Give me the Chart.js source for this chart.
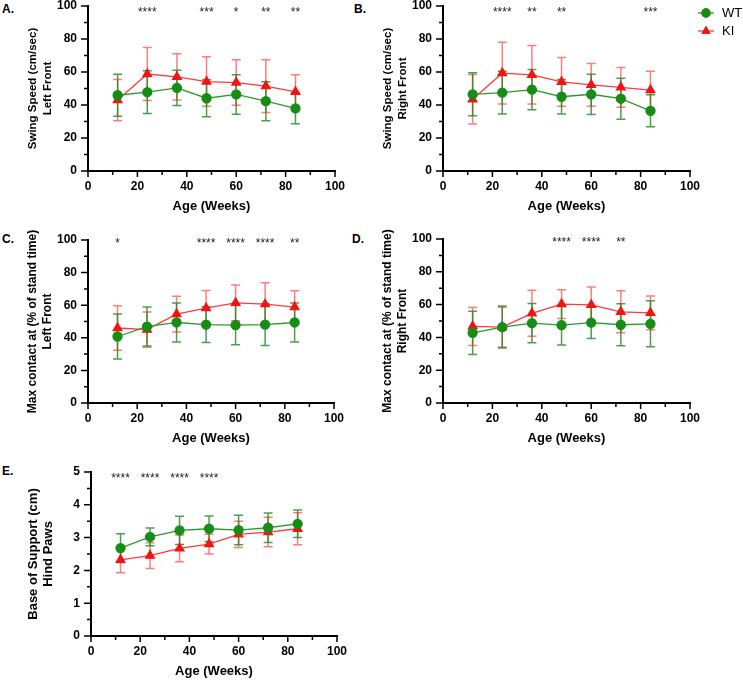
<!DOCTYPE html>
<html>
<head>
<meta charset="utf-8">
<script src="https://cdn.jsdelivr.net/npm/chart.js@4.4.1/dist/chart.umd.min.js"></script>
<style>
  body { margin: 0; background: #fff; width: 743px; height: 681px; position: relative; overflow: hidden;
         font-family: 'Liberation Sans', Arial, sans-serif; }
  canvas { position: absolute; }
  .lab { position: absolute; font-weight: bold; font-size: 12px; color: #000; }
</style>
</head>
<body>
<div class="lab" style="left:2px;top:2px">A.</div>
<div class="lab" style="left:354px;top:2px">B.</div>
<div class="lab" style="left:2px;top:232px">C.</div>
<div class="lab" style="left:352px;top:232px">D.</div>
<div class="lab" style="left:2px;top:464px">E.</div>

<canvas id="cA" width="350" height="222" style="left:0px;top:-6px"></canvas>
<canvas id="cB" width="373" height="222" style="left:370px;top:-6px"></canvas>
<canvas id="cC" width="350" height="220" style="left:0px;top:228px"></canvas>
<canvas id="cD" width="335" height="221" style="left:370px;top:227px"></canvas>
<canvas id="cE" width="352" height="221" style="left:0px;top:460px"></canvas>

<script>
Chart.defaults.font.family = "'Liberation Sans', Arial, sans-serif";

// age of the mice, weeks
const ages = [12, 24, 36, 48, 60, 72, 84];

// A. swing speed, left front (cm/sec)
const swingLF_WT    = [45.9, 47.8, 50.4, 44.1, 46.4, 42.3, 37.9];
const swingLF_WT_sd = [12.7, 13.0, 10.7, 11.2, 12.0, 11.8, 9.3];
const swingLF_KI    = [43.0, 58.8, 57.0, 54.2, 53.6, 51.5, 48.0];
const swingLF_KI_sd = [12.5, 16.0, 14.0, 15.0, 13.8, 16.0, 10.3];
const swingLF_stars = ['', '****', '', '***', '*', '**', '**'];

// B. swing speed, right front (cm/sec)
const swingRF_WT    = [46.5, 47.5, 49.3, 45.0, 46.5, 43.8, 36.5];
const swingRF_WT_sd = [13.0, 13.0, 12.2, 10.4, 12.2, 12.4, 9.7];
const swingRF_KI    = [43.5, 59.3, 58.3, 54.0, 52.2, 50.7, 49.0];
const swingRF_KI_sd = [15.0, 18.7, 17.7, 14.8, 13.0, 12.0, 11.4];
const swingRF_stars = ['', '****', '**', '**', '', '', '***'];

// C. max contact, left front (% of stand time)
const contactLF_WT    = [40.8, 46.9, 49.4, 48.1, 47.8, 48.1, 49.4];
const contactLF_WT_sd = [13.8, 12.0, 12.0, 11.0, 12.0, 12.8, 12.0];
const contactLF_KI    = [46.0, 45.0, 54.5, 58.2, 61.4, 60.6, 58.8];
const contactLF_KI_sd = [13.6, 10.8, 11.0, 10.8, 11.0, 13.1, 10.0];
const contactLF_stars = ['*', '', '', '****', '****', '****', '**'];

// D. max contact, right front (% of stand time)
const contactRF_WT    = [42.8, 46.3, 48.7, 47.5, 49.0, 47.7, 48.3];
const contactRF_WT_sd = [13.2, 12.8, 12.0, 12.1, 9.6, 12.8, 14.0];
const contactRF_KI    = [46.7, 46.3, 54.7, 60.3, 59.8, 55.6, 55.0];
const contactRF_KI_sd = [11.6, 12.1, 14.0, 8.8, 11.0, 12.8, 10.3];
const contactRF_stars = ['', '', '', '****', '****', '**', ''];

// E. base of support, hind paws (cm)
const bosHP_WT    = [2.68, 3.02, 3.22, 3.27, 3.23, 3.30, 3.42];
const bosHP_WT_sd = [0.44, 0.27, 0.43, 0.39, 0.45, 0.45, 0.42];
const bosHP_KI    = [2.32, 2.45, 2.67, 2.80, 3.10, 3.17, 3.27];
const bosHP_KI_sd = [0.39, 0.39, 0.41, 0.30, 0.40, 0.45, 0.49];
const bosHP_stars = ['****', '****', '****', '****', '', '', ''];

const GREEN = '#178c17', GREEN_LINE = '#2b9a2b', GREEN_ERR = 'rgba(30,135,30,0.8)';
const RED = '#f01414', RED_LINE = '#ff3a3a', RED_ERR = 'rgba(255,55,55,0.65)';

// mean +/- sd bars, drawn under the lines
const errorBars = {
  id: 'errorBars',
  beforeDatasetsDraw(chart) {
    const { ctx, scales: { x, y } } = chart;
    for (let i = chart.data.datasets.length - 1; i >= 0; i--) {
      const ds = chart.data.datasets[i];
      if (!ds.sd) continue;
      ctx.save();
      ctx.strokeStyle = ds.errorColor;
      ctx.lineWidth = 1.5;
      ds.data.forEach((p, j) => {
        const px = x.getPixelForValue(p.x);
        const top = y.getPixelForValue(p.y + ds.sd[j]);
        const bot = y.getPixelForValue(p.y - ds.sd[j]);
        ctx.beginPath();
        ctx.moveTo(px, top); ctx.lineTo(px, bot);
        ctx.moveTo(px - 4.5, top); ctx.lineTo(px + 4.5, top);
        ctx.moveTo(px - 4.5, bot); ctx.lineTo(px + 4.5, bot);
        ctx.stroke();
      });
      ctx.restore();
    }
  }
};

// prism style tick marks, long on labelled values, short in between
const prismTicks = {
  id: 'prismTicks',
  afterDraw(chart, args, opts) {
    const { ctx, chartArea: a, scales: { x, y } } = chart;
    ctx.save();
    ctx.strokeStyle = '#000';
    ctx.lineWidth = 1.5;
    ctx.beginPath();
    for (let v = x.min; v <= x.max + 1e-9; v += opts.xMinor) {
      const px = x.getPixelForValue(v);
      const len = Math.abs(v / opts.xMajor - Math.round(v / opts.xMajor)) < 1e-6 ? 6 : 4;
      ctx.moveTo(px, a.bottom); ctx.lineTo(px, a.bottom + len);
    }
    for (let v = y.min; v <= y.max + 1e-9; v += opts.yMinor) {
      const py = y.getPixelForValue(v);
      const len = Math.abs(v / opts.yMajor - Math.round(v / opts.yMajor)) < 1e-6 ? 7 : 4;
      ctx.moveTo(a.left, py); ctx.lineTo(a.left - len, py);
    }
    ctx.stroke();
    ctx.restore();
  }
};

// significance stars above each age
const stars = {
  id: 'stars',
  afterDatasetsDraw(chart, args, opts) {
    if (!opts.labels) return;
    const { ctx, scales: { x, y } } = chart;
    ctx.save();
    ctx.fillStyle = '#222';
    ctx.font = "12px 'Liberation Sans', Arial, sans-serif";
    ctx.textAlign = 'center';
    ctx.textBaseline = 'alphabetic';
    opts.labels.forEach((s, i) => {
      if (s) ctx.fillText(s, x.getPixelForValue(ages[i]), y.getPixelForValue(opts.y));
    });
    ctx.restore();
  }
};

Chart.register(errorBars, prismTicks, stars);

// legend beside panel B
const sideLegend = {
  id: 'sideLegend',
  afterDraw(chart) {
    const { ctx, chartArea: a } = chart;
    const items = [
      { text: 'WT', color: GREEN_LINE, fill: GREEN, style: 'circle', y: a.top + 7 },
      { text: 'KI', color: RED_LINE, fill: RED, style: 'triangle', y: a.top + 25 }
    ];
    ctx.save();
    items.forEach(it => {
      const x0 = a.right + 8;
      ctx.strokeStyle = it.color;
      ctx.lineWidth = 1.3;
      ctx.beginPath(); ctx.moveTo(x0, it.y); ctx.lineTo(x0 + 16, it.y); ctx.stroke();
      Chart.helpers.drawPoint(ctx, { pointStyle: it.style, radius: 4, borderWidth: 1 }, x0 + 8, it.y);
      ctx.fillStyle = it.fill;
      ctx.strokeStyle = it.fill;
      ctx.fill(); ctx.stroke();
      ctx.fillStyle = '#000';
      ctx.font = "13px 'Liberation Sans', Arial, sans-serif";
      ctx.textBaseline = 'middle';
      ctx.fillText(it.text, x0 + 24, it.y);
    });
    ctx.restore();
  }
};

function pts(arr) { return arr.map((v, i) => ({ x: ages[i], y: v })); }

function makePanel(id, p) {
  return new Chart(document.getElementById(id), {
    type: 'line',
    data: {
      datasets: [
        { label: 'WT', data: pts(p.wt), sd: p.wtSd, errorColor: GREEN_ERR,
          borderColor: GREEN_LINE, borderWidth: 1.3, backgroundColor: GREEN,
          pointStyle: 'circle', pointRadius: 4.5, pointBorderColor: GREEN, pointBackgroundColor: GREEN },
        { label: 'KI', data: pts(p.ki), sd: p.kiSd, errorColor: RED_ERR,
          borderColor: RED_LINE, borderWidth: 1.3, backgroundColor: RED,
          pointStyle: 'triangle', pointRadius: 5, pointBorderColor: RED, pointBackgroundColor: RED }
      ]
    },
    options: {
      responsive: false,
      animation: false,
      layout: { padding: { left: 0, top: p.padTop, right: p.padRight, bottom: 0 } },
      plugins: {
        legend: { display: false },
        tooltip: { enabled: false },
        prismTicks: { xMinor: 10, xMajor: 20, yMinor: p.yMinor, yMajor: p.yStep },
        stars: { labels: p.stars, y: p.starY }
      },
      scales: {
        x: {
          type: 'linear', min: 0, max: 100,
          border: { display: true, width: 2, color: '#000' },
          grid: { display: false, drawTicks: true, tickLength: 6 },
          ticks: { stepSize: 20, color: '#000', padding: 2, autoSkip: false, maxRotation: 0,
                   font: { size: 12, weight: 'bold' } },
          title: { display: true, text: 'Age (Weeks)', color: '#000',
                   font: { size: 13, weight: 'bold' }, padding: { top: 0, bottom: 1.5 } },
          afterFit(s) { s.height = 45; }
        },
        y: {
          min: 0, max: p.yMax,
          border: { display: true, width: 2, color: '#000' },
          grid: { display: false, drawTicks: true, tickLength: 7 },
          ticks: { stepSize: p.yStep, color: '#000', padding: 4, font: { size: 12, weight: 'bold' } },
          title: { display: true, text: p.yTitle, color: '#000',
                   font: { size: p.titleSize, weight: 'bold', lineHeight: 15 / p.titleSize },
                   padding: { top: p.titlePad, bottom: 0 } },
          afterFit(s) { s.width = p.yWidth; }
        }
      }
    },
    plugins: p.extra || []
  });
}

makePanel('cA', {
  wt: swingLF_WT, wtSd: swingLF_WT_sd, ki: swingLF_KI, kiSd: swingLF_KI_sd,
  stars: swingLF_stars, starY: 94, yMax: 100, yStep: 20, yMinor: 10,
  yTitle: ['Swing Speed (cm/sec)', 'Left Front'], titleSize: 11.5, titlePad: 25.5,
  yWidth: 88, padTop: 12, padRight: 15
});
makePanel('cB', {
  wt: swingRF_WT, wtSd: swingRF_WT_sd, ki: swingRF_KI, kiSd: swingRF_KI_sd,
  stars: swingRF_stars, starY: 94, yMax: 100, yStep: 20, yMinor: 10,
  yTitle: ['Swing Speed (cm/sec)', 'Right Front'], titleSize: 11.5, titlePad: 10.5,
  yWidth: 73, padTop: 12, padRight: 53, extra: [sideLegend]
});
makePanel('cC', {
  wt: contactLF_WT, wtSd: contactLF_WT_sd, ki: contactLF_KI, kiSd: contactLF_KI_sd,
  stars: contactLF_stars, starY: 96, yMax: 100, yStep: 20, yMinor: 10,
  yTitle: ['Max contact at (% of stand time)', 'Left Front'], titleSize: 12, titlePad: 25.5,
  yWidth: 88, padTop: 12, padRight: 16
});
makePanel('cD', {
  wt: contactRF_WT, wtSd: contactRF_WT_sd, ki: contactRF_KI, kiSd: contactRF_KI_sd,
  stars: contactRF_stars, starY: 96, yMax: 100, yStep: 20, yMinor: 10,
  yTitle: ['Max contact at (% of stand time)', 'Right Front'], titleSize: 12, titlePad: 10.5,
  yWidth: 73, padTop: 12, padRight: 15
});
makePanel('cE', {
  wt: bosHP_WT, wtSd: bosHP_WT_sd, ki: bosHP_KI, kiSd: bosHP_KI_sd,
  stars: bosHP_stars, starY: 4.68, yMax: 5, yStep: 1, yMinor: 0.5,
  yTitle: ['Base of Support (cm)', 'Hind Paws'], titleSize: 13, titlePad: 25.5,
  yWidth: 91, padTop: 12, padRight: 15
});
</script>
</body>
</html>
